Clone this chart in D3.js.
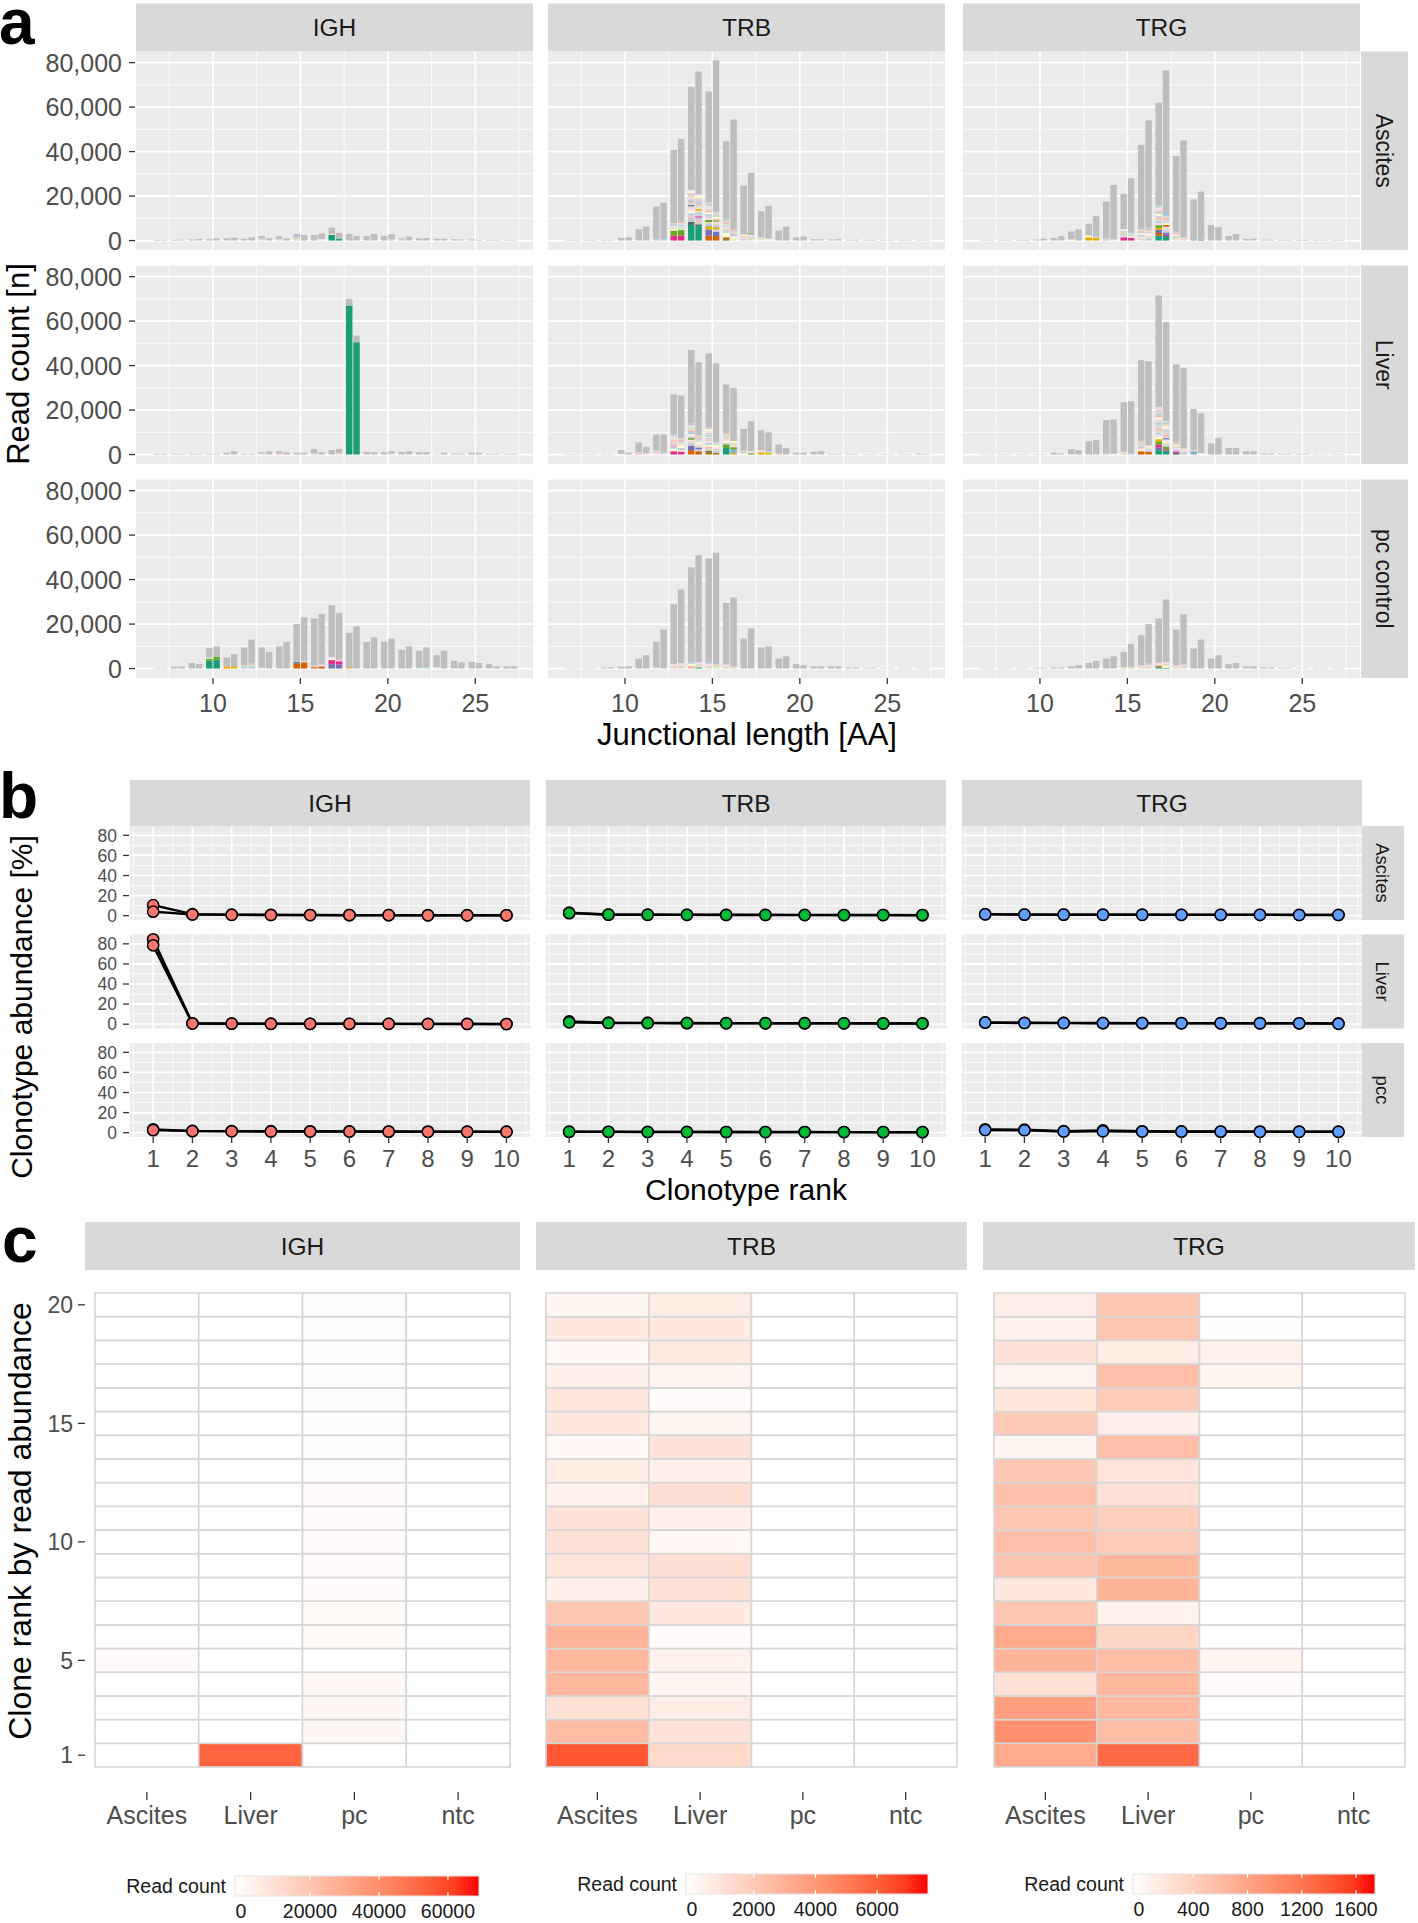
<!DOCTYPE html>
<html>
<head>
<meta charset="utf-8">
<script src="https://cdnjs.cloudflare.com/ajax/libs/d3/7.8.5/d3.min.js"></script>
<style>
  body { margin: 0; background: #fff; }
  text { font-family: "Liberation Sans", Arial, Helvetica, sans-serif; }
</style>
</head>
<body>
<svg id="fig" width="1418" height="1923"></svg>
<script>
// ---------- categories / ticks ----------
var genes = ["IGH", "TRB", "TRG"];
var samplesA = ["Ascites", "Liver", "pc control"];
var samplesB = ["Ascites", "Liver", "pcc"];
var samplesC = ["Ascites", "Liver", "pc", "ntc"];
var lengthsAA = [7, 8, 9, 10, 11, 12, 13, 14, 15, 16, 17, 18, 19, 20, 21, 22, 23, 24, 25, 26, 27];
var readTicks = [0, 20000, 40000, 60000, 80000];
var lengthTicks = [10, 15, 20, 25];
var ranks = [1, 2, 3, 4, 5, 6, 7, 8, 9, 10];
var abundTicks = [0, 20, 40, 60, 80];
var cloneRanks = [1, 2, 3, 4, 5, 6, 7, 8, 9, 10, 11, 12, 13, 14, 15, 16, 17, 18, 19, 20];
var rankTicks = [1, 5, 10, 15, 20];
var geneColors = ["#F8766D", "#00BA38", "#619CFF"];

// ---------- panel a: read totals per junction length, two replicates ----------
var IGH_Asc = [
  [300, 300, 500, 600, 1000, 800, 2000, 2000, 3000, 2500, 5800, 3000, 2000, 2000, 1000, 1000, 800, 600, 500, 300, 200],
  [200, 400, 800, 1000, 1300, 1500, 1000, 1000, 2500, 3200, 3500, 2000, 3000, 2800, 1800, 1100, 800, 500, 300, 300, 200]];
var IGH_Liv = [
  [300, 300, 300, 300, 800, 300, 1000, 1500, 800, 2500, 2000, 70000, 1200, 1000, 1200, 1000, 200, 400, 800, 300, 300],
  [300, 300, 300, 300, 1500, 300, 1500, 1000, 800, 1000, 2500, 53500, 1000, 1500, 1500, 1000, 800, 400, 800, 300, 300]];
var IGH_pc = [
  [200, 800, 2500, 9300, 5000, 9500, 9500, 10000, 20000, 22500, 28500, 16000, 12000, 12000, 8500, 8000, 6000, 3500, 3000, 2000, 1000],
  [200, 800, 2000, 10000, 6500, 13000, 7500, 12000, 23000, 24500, 25000, 19000, 14000, 13500, 10000, 9500, 8000, 2800, 2500, 1000, 1000]];
var TRB_Asc = [
  [200, 200, 200, 1200, 5000, 15300, 40700, 69000, 67000, 44600, 24700, 13200, 4500, 1500, 600, 500, 300, 300, 200, 200, 100],
  [200, 200, 200, 1500, 6300, 17000, 45700, 76000, 81000, 54400, 30400, 15600, 6300, 1800, 600, 600, 400, 300, 200, 200, 100]];
var TRB_Liv = [
  [200, 200, 200, 2000, 5500, 9000, 27000, 47000, 45500, 31500, 11500, 11000, 4500, 800, 1200, 300, 300, 200, 200, 200, 400],
  [200, 200, 200, 800, 3500, 9000, 26500, 41500, 41000, 30000, 15000, 10000, 3000, 800, 1500, 300, 200, 200, 200, 200, 200]];
var TRB_pc = [
  [100, 200, 400, 800, 4500, 12000, 29000, 45500, 49500, 29500, 13500, 9500, 4500, 2000, 1000, 1000, 500, 300, 200, 200, 100],
  [100, 200, 600, 1000, 6000, 17500, 35500, 51000, 52000, 32000, 18000, 10000, 5500, 1500, 1000, 1000, 500, 300, 200, 200, 100]];
var TRG_Asc = [
  [100, 200, 300, 500, 1200, 4000, 7500, 17500, 21000, 43000, 62000, 38000, 18500, 7000, 2000, 800, 400, 300, 300, 200, 200],
  [100, 200, 300, 800, 2000, 5000, 11000, 25000, 28000, 54000, 76500, 45000, 22000, 6000, 3000, 800, 400, 300, 300, 200, 200]];
var TRG_Liv = [
  [100, 200, 200, 200, 800, 2500, 6000, 15500, 23500, 42500, 71500, 40500, 20500, 5000, 3000, 1500, 500, 300, 300, 200, 200],
  [100, 200, 200, 200, 500, 2000, 6500, 15800, 24000, 42000, 59500, 39000, 18500, 7500, 3000, 1500, 500, 300, 300, 200, 200]];
var TRG_pc = [
  [100, 100, 200, 300, 500, 1000, 2500, 4500, 7500, 15000, 22500, 17500, 9000, 4500, 2000, 1000, 500, 300, 200, 200, 100],
  [100, 100, 200, 300, 500, 1500, 3500, 5500, 11000, 20000, 31000, 24500, 13000, 6000, 2500, 1000, 500, 300, 200, 200, 100]];

// clone colour keys
var clonePalette = {
  T: "#1B9E77", O: "#D95F02", P: "#7570B3", K: "#E7298A", G: "#66A61E", Y: "#E6AB02",
  B: "#A6761D", D: "#666666", L: "#80B1D3",
  p: "#FDDAEC", b: "#B3CDE3", e: "#E5D8BD", u: "#DECBE4", g: "#CCEBC5", y: "#FFFFCC",
  s: "#FBB4AE", o: "#FED9A6", t: "#B3E2CD"
};

// top clones stacked at the bottom of a bar: [length, replicate, colour keys, reads]
var cloneIGH_Asc = [
  [13, 0, "e", [900]], [14, 0, "e", [800]], [15, 0, "eb", [1200, 500]], [16, 1, "p", [700]],
  [17, 0, "Te", [2500, 700]], [17, 1, "T", [900]], [20, 1, "u", [600]], [21, 0, "s", [500]]];
var cloneIGH_Liv = [
  [13, 0, "u", [500]], [14, 0, "s", [500]], [16, 0, "u", [700]], [17, 1, "e", [800]],
  [18, 0, "T", [67000]], [18, 1, "T", [50500]], [20, 1, "e", [500]]];
var cloneIGH_pc = [
  [10, 0, "TGg", [3500, 900, 600]], [10, 1, "TG", [4000, 1300]],
  [11, 0, "Y", [1000]], [11, 1, "Y", [1000]],
  [12, 0, "bg", [800, 600]], [12, 1, "bgs", [1000, 700, 500]],
  [13, 0, "g", [400]],
  [15, 0, "ODb", [2200, 700, 500]], [15, 1, "Oe", [2800, 600]],
  [16, 0, "Bs", [600, 800]], [16, 1, "Op", [1000, 800]],
  [17, 0, "PKyp", [2000, 1800, 800, 600]], [17, 1, "PKp", [1800, 1500, 500]],
  [18, 0, "Y", [600]], [22, 0, "t", [500]], [22, 1, "t", [500]], [23, 0, "p", [600]]];
var cloneTRB_Asc = [
  [12, 0, "b", [900]], [12, 1, "b", [700]],
  [13, 0, "KGygpbe", [2200, 2300, 600, 700, 800, 700, 600]],
  [13, 1, "KGgebps", [2200, 2500, 1000, 800, 700, 700, 600]],
  [14, 0, "TDbsubypePgsbpeuyp", [7000, 1400, 1200, 800, 1000, 900, 1200, 900, 1000, 700, 800, 700, 900, 800, 1200, 900, 800, 600]],
  [14, 1, "TDtsbKubeYpgsbueyp", [6500, 800, 800, 1200, 1000, 600, 800, 900, 900, 700, 800, 900, 700, 800, 800, 1000, 900, 700]],
  [15, 0, "OPYbeGpubysepgbe", [2200, 2800, 1500, 1000, 800, 1000, 900, 800, 900, 800, 700, 900, 800, 700, 600, 900]],
  [15, 1, "OPuYbepGsybeu", [2000, 2000, 1000, 1000, 900, 800, 800, 600, 700, 900, 700, 900, 600]],
  [16, 0, "Bybepugseb", [1500, 2000, 700, 1000, 800, 700, 800, 700, 900, 700]],
  [16, 1, "gypbeus", [600, 800, 700, 800, 900, 700, 600]],
  [17, 0, "bpey", [600, 700, 800, 600]], [17, 1, "gepbG", [800, 900, 700, 700, 400]],
  [18, 0, "peg", [500, 600, 500]], [18, 1, "ye", [600, 500]]];
var cloneTRB_Liv = [
  [10, 0, "p", [300]], [11, 0, "sp", [600, 400]], [11, 1, "p", [500]],
  [12, 0, "pue", [600, 800, 500]], [12, 1, "pb", [400, 500]],
  [13, 0, "Kybsuespgpb", [1500, 1200, 800, 800, 700, 800, 600, 600, 700, 700, 700]],
  [13, 1, "Kebypguse", [1200, 1000, 800, 900, 700, 800, 700, 600, 800]],
  [14, 0, "OPbepGuybsegpb", [2000, 2000, 1000, 900, 800, 700, 900, 800, 1000, 700, 900, 800, 700, 700]],
  [14, 1, "ObPepyguse", [1500, 900, 800, 900, 700, 800, 700, 800, 600, 800]],
  [15, 0, "BDgsybpeugbepyu", [1200, 600, 800, 1000, 800, 800, 700, 900, 700, 600, 800, 900, 700, 900, 800]],
  [15, 1, "Bbepygu", [800, 900, 900, 800, 700, 800, 700]],
  [16, 0, "TGbypeugs", [3000, 1500, 800, 700, 700, 900, 700, 800, 600]],
  [16, 1, "YLGpegy", [800, 1500, 1000, 700, 800, 600, 700]],
  [17, 0, "ybe", [600, 500, 700]], [17, 1, "Gpe", [600, 500, 600]],
  [18, 0, "Ype", [1000, 500, 600]], [18, 1, "Yg", [800, 500]],
  [19, 0, "s", [500]]];
var cloneTRB_pc = [
  [12, 0, "e", [600]],
  [13, 0, "ep", [1200, 800]], [13, 1, "ep", [1500, 900]],
  [14, 0, "syb", [1200, 1000, 800]], [14, 1, "Tep", [500, 1500, 800]],
  [15, 0, "epb", [1200, 1000, 800]], [15, 1, "ge", [1000, 1000]],
  [16, 0, "ep", [1000, 800]], [16, 1, "e", [900]]];
var cloneTRG_Asc = [
  [12, 0, "y", [500]],
  [13, 0, "Yy", [1500, 800]], [13, 1, "Ye", [1200, 500]],
  [14, 0, "be", [600, 500]], [14, 1, "p", [500]],
  [15, 0, "Kpbeuy", [1500, 800, 600, 900, 700, 600]], [15, 1, "Kpegb", [1200, 700, 800, 600, 600]],
  [16, 0, "epbyusg", [1000, 800, 800, 600, 700, 600, 500]], [16, 1, "bepyugsb", [800, 900, 700, 800, 700, 600, 700, 700]],
  [17, 0, "TOPYGpbesuybepgb", [2200, 1200, 1500, 800, 1200, 900, 900, 900, 800, 800, 900, 800, 900, 800, 700, 700]],
  [17, 1, "TKPbepOygusebL", [2000, 600, 1000, 900, 900, 800, 800, 800, 800, 800, 700, 800, 700, 600]],
  [18, 0, "pebysu", [600, 800, 600, 700, 600, 600]], [18, 1, "ep", [700, 600]],
  [19, 0, "L", [600]], [19, 1, "Pb", [500, 500]]];
var cloneTRG_Liv = [
  [14, 0, "b", [500]], [14, 1, "p", [400]],
  [15, 0, "ep", [800, 500]], [15, 1, "b", [600]],
  [16, 0, "Oypbeugs", [1500, 600, 800, 700, 800, 700, 600, 500]], [16, 1, "Obepy", [1200, 700, 800, 700, 600]],
  [17, 0, "TPKGYypbesugbepysbeupg", [2000, 1200, 1200, 1500, 1000, 1200, 900, 900, 1000, 800, 900, 800, 900, 900, 800, 800, 700, 800, 900, 800, 800, 700]],
  [17, 1, "TKGbeypPgsuebpyebg", [1800, 600, 1000, 800, 900, 800, 900, 600, 700, 800, 700, 900, 700, 800, 800, 900, 800, 700]],
  [18, 0, "DKbpeyus", [800, 600, 700, 800, 900, 600, 700, 600]], [18, 1, "bepg", [700, 800, 700, 600]],
  [19, 0, "Le", [1500, 600]], [19, 1, "y", [600]]];
var cloneTRG_pc = [
  [15, 0, "e", [600]], [15, 1, "e", [800]],
  [16, 0, "ep", [800, 600]], [16, 1, "epb", [1000, 700, 600]],
  [17, 0, "TOep", [600, 500, 800, 700]], [17, 1, "Tyep", [400, 1000, 800, 700]],
  [18, 0, "ep", [800, 600]], [18, 1, "ep", [1200, 600]]];

// ---------- panel b: clonotype abundance [%] of top 10 ranks, two replicates ----------
var abIGH_Asc = [[10.5, 1.5, 1.0, 0.8, 0.7, 0.6, 0.6, 0.5, 0.5, 0.4], [4.0, 1.2, 0.8, 0.7, 0.6, 0.5, 0.5, 0.4, 0.4, 0.4]];
var abIGH_Liv = [[84.5, 0.9, 0.6, 0.5, 0.4, 0.4, 0.3, 0.3, 0.3, 0.2], [78.5, 0.6, 0.5, 0.3, 0.3, 0.3, 0.3, 0.2, 0.2, 0.1]];
var abIGH_pc = [[3.3, 1.8, 1.6, 1.5, 1.4, 1.3, 1.2, 1.1, 1.0, 1.0], [2.5, 1.5, 1.3, 1.2, 1.1, 1.1, 1.0, 0.9, 0.9, 0.8]];
var abTRB_Asc = [[3.0, 1.2, 1.0, 0.9, 0.9, 0.8, 0.8, 0.7, 0.7, 0.6], [2.5, 1.0, 0.9, 0.8, 0.7, 0.7, 0.6, 0.6, 0.6, 0.5]];
var abTRB_Liv = [[2.8, 1.5, 1.3, 1.2, 1.1, 1.0, 1.0, 0.9, 0.9, 0.8], [1.8, 1.2, 1.1, 1.0, 0.9, 0.9, 0.8, 0.8, 0.7, 0.6]];
var abTRB_pc = [[1.0, 0.9, 0.8, 0.8, 0.7, 0.7, 0.7, 0.6, 0.6, 0.6], [0.9, 0.8, 0.7, 0.7, 0.7, 0.6, 0.6, 0.6, 0.5, 0.5]];
var abTRG_Asc = [[1.5, 1.2, 1.1, 1.0, 1.0, 0.9, 0.9, 0.9, 0.8, 0.8], [1.3, 1.0, 1.0, 0.9, 0.9, 0.8, 0.8, 0.8, 0.7, 0.7]];
var abTRG_Liv = [[1.8, 1.4, 1.3, 1.2, 1.1, 1.1, 1.0, 1.0, 0.9, 0.8], [1.5, 1.2, 1.1, 1.0, 1.0, 0.9, 0.9, 0.9, 0.8, 0.3]];
var abTRG_pc = [[3.2, 3.0, 1.5, 2.2, 1.4, 1.3, 1.2, 1.1, 1.1, 1.0], [2.6, 2.4, 1.2, 1.3, 1.1, 1.0, 1.0, 0.9, 0.9, 0.9]];

// ---------- panel c: read counts of clone ranks 1..20 per sample ----------
var heatIGH = [
  [0, 0, 0, 0, 1400, 0, 0, 0, 0, 0, 0, 0, 0, 0, 0, 0, 0, 0, 0, 0],
  [53000, 0, 0, 0, 0, 0, 0, 0, 0, 0, 0, 0, 0, 0, 0, 0, 0, 0, 0, 0],
  [0, 3000, 3000, 2500, 0, 2000, 1700, 1100, 1100, 1000, 1000, 1000, 900, 900, 900, 800, 800, 800, 800, 700],
  [0, 0, 0, 0, 0, 0, 0, 0, 0, 0, 0, 0, 0, 0, 0, 0, 0, 0, 0, 0]];
var heatTRB = [
  [6300, 2700, 1200, 2900, 2900, 3050, 2300, 600, 1000, 1200, 1150, 550, 750, 300, 900, 1000, 600, 300, 900, 400],
  [1550, 1150, 750, 400, 550, 150, 900, 1200, 1300, 300, 600, 1300, 600, 1150, 400, 150, 450, 850, 900, 750],
  [0, 0, 0, 0, 0, 0, 0, 0, 0, 0, 0, 0, 0, 0, 0, 0, 0, 0, 0, 0],
  [0, 0, 0, 0, 0, 0, 0, 0, 0, 0, 0, 0, 0, 0, 0, 0, 0, 0, 0, 0]];
var heatTRG = [
  [780, 990, 870, 280, 700, 780, 520, 210, 540, 590, 520, 575, 505, 90, 490, 245, 105, 260, 120, 155],
  [1300, 610, 645, 660, 610, 380, 120, 700, 660, 470, 435, 280, 245, 590, 155, 470, 590, 175, 520, 520],
  [0, 0, 0, 35, 90, 0, 0, 0, 0, 0, 0, 0, 0, 0, 0, 0, 90, 120, 15, 0],
  [0, 0, 0, 0, 0, 0, 0, 0, 0, 0, 0, 0, 0, 0, 0, 0, 0, 0, 0, 0]];
var heatMax = [69000, 7650, 1740];
var legendTicks = [[0, 20000, 40000, 60000], [0, 2000, 4000, 6000], [0, 400, 800, 1200, 1600]];

var readsData = [[IGH_Asc, IGH_Liv, IGH_pc], [TRB_Asc, TRB_Liv, TRB_pc], [TRG_Asc, TRG_Liv, TRG_pc]];
var cloneData = [[cloneIGH_Asc, cloneIGH_Liv, cloneIGH_pc], [cloneTRB_Asc, cloneTRB_Liv, cloneTRB_pc], [cloneTRG_Asc, cloneTRG_Liv, cloneTRG_pc]];
var abundData = [[abIGH_Asc, abIGH_Liv, abIGH_pc], [abTRB_Asc, abTRB_Liv, abTRB_pc], [abTRG_Asc, abTRG_Liv, abTRG_pc]];
var heatData = [heatIGH, heatTRB, heatTRG];

var svg = d3.select("#fig");
var TICK = "#4D4D4D", STRIP = "#D9D9D9";

/*
grey panel with white grid.
*/
function frame(g, w, h, xs, ys, xMaj, xMin, yMaj, yMin) {
  g.append("rect").attr("width", w).attr("height", h).attr("fill", "#EBEBEB");
  var lines = [].concat(
    xMin.map(function(v) { return {x1: xs(v), x2: xs(v), y1: 0, y2: h, sw: 0.8}; }),
    yMin.map(function(v) { return {x1: 0, x2: w, y1: ys(v), y2: ys(v), sw: 0.8}; }),
    xMaj.map(function(v) { return {x1: xs(v), x2: xs(v), y1: 0, y2: h, sw: 1.7}; }),
    yMaj.map(function(v) { return {x1: 0, x2: w, y1: ys(v), y2: ys(v), sw: 1.7}; }));
  g.selectAll("line.grid").data(lines).enter().append("line")
    .attr("x1", function(d) { return d.x1; }).attr("x2", function(d) { return d.x2; })
    .attr("y1", function(d) { return d.y1; }).attr("y2", function(d) { return d.y2; })
    .attr("stroke", "#fff").attr("stroke-width", function(d) { return d.sw; });
}

function stripTop(x, y, w, h, label) {
  svg.append("rect").attr("x", x).attr("y", y).attr("width", w).attr("height", h).attr("fill", STRIP);
  svg.append("text").attr("x", x + w / 2).attr("y", y + h / 2).attr("dy", "0.36em")
    .attr("text-anchor", "middle").attr("font-size", 24.5).attr("fill", "#1A1A1A").text(label);
}

function stripRight(x, y, w, h, label, size) {
  svg.append("rect").attr("x", x).attr("y", y).attr("width", w).attr("height", h).attr("fill", STRIP);
  svg.append("text").attr("transform", "translate(" + (x + w / 2) + "," + (y + h / 2) + ") rotate(90)")
    .attr("dy", "0.36em").attr("text-anchor", "middle").attr("font-size", size)
    .attr("fill", "#1A1A1A").text(label);
}

function yTitle(x, y, label, size) {
  svg.append("text").attr("transform", "translate(" + x + "," + y + ") rotate(-90)")
    .attr("dy", "0.36em").attr("text-anchor", "middle").attr("font-size", size)
    .attr("fill", "#000").text(label);
}

function letter(x, y, l) {
  svg.append("text").attr("x", x).attr("y", y).attr("font-size", 64).attr("font-weight", "bold").text(l);
}

// ================= panel a =================
var colA = [136, 548, 963], widthA = 397;
var rowA = [51.5, 265.5, 479.5], heightA = 198.5;
var xA = d3.scaleLinear().domain([5.6, 28.3]).range([0, widthA]);
var yA = d3.scaleLinear().domain([-4250, 85000]).range([heightA, 0]);
var fmtReads = d3.format(",");

letter(-1, 44, "a");
genes.forEach(function(gene, gi) {
  stripTop(colA[gi], 3.5, widthA, 48, gene);
  samplesA.forEach(function(smp, si) {
    var g = svg.append("g").attr("transform", "translate(" + colA[gi] + "," + rowA[si] + ")");
    frame(g, widthA, heightA, xA, yA, lengthTicks, [7.5, 12.5, 17.5, 22.5, 27.5], readTicks, [10000, 30000, 50000, 70000]);

    var bars = [];
    readsData[gi][si].forEach(function(rep, r) {
      rep.forEach(function(total, i) {
        var len = lengthsAA[i];
        var entry = cloneData[gi][si].find(function(c) { return c[0] === len && c[1] === r; });
        var y0 = 0;
        if (entry) entry[3].forEach(function(v, k) {
          bars.push({len: len, r: r, y0: y0, y1: y0 + v, fill: clonePalette[entry[2][k]]});
          y0 += v;
        });
        if (total > y0) bars.push({len: len, r: r, y0: y0, y1: total, fill: "#BEBEBE"});
      });
    });
    g.selectAll("rect.bar").data(bars).enter().append("rect")
      .attr("x", function(d) { return xA(d.len + (d.r ? 0.21 : -0.21) - 0.185); })
      .attr("width", xA(0.37) - xA(0))
      .attr("y", function(d) { return yA(d.y1); })
      .attr("height", function(d) { return Math.max(0.4, yA(d.y0) - yA(d.y1)); })
      .attr("fill", function(d) { return d.fill; });

    if (gi === 2) stripRight(1361, rowA[si], 47, heightA, smp, 23);
    if (gi === 0) {
      readTicks.forEach(function(t) {
        svg.append("line").attr("x1", colA[0] - 7).attr("x2", colA[0] - 1).attr("y1", rowA[si] + yA(t)).attr("y2", rowA[si] + yA(t))
          .attr("stroke", "#333").attr("stroke-width", 1.3);
        svg.append("text").attr("x", colA[0] - 14).attr("y", rowA[si] + yA(t)).attr("dy", "0.36em")
          .attr("text-anchor", "end").attr("font-size", 25).attr("fill", TICK).text(fmtReads(t));
      });
    }
    if (si === 2) {
      lengthTicks.forEach(function(t) {
        var x = colA[gi] + xA(t), yb = rowA[2] + heightA;
        svg.append("line").attr("x1", x).attr("x2", x).attr("y1", yb).attr("y2", yb + 6).attr("stroke", "#333").attr("stroke-width", 1.3);
        svg.append("text").attr("x", x).attr("y", yb + 34).attr("text-anchor", "middle")
          .attr("font-size", 25).attr("fill", TICK).text(t);
      });
    }
  });
});
svg.append("text").attr("x", 747).attr("y", 745).attr("text-anchor", "middle").attr("font-size", 31).text("Junctional length [AA]");
yTitle(18, 364, "Read count [n]", 31);

// ================= panel b =================
var colB = [130, 546, 962], widthB = 400;
var rowB = [826, 934.5, 1043], heightB = 94;
var xB = d3.scaleLinear().domain([0.41, 10.6]).range([0, widthB]);
var yB = d3.scaleLinear().domain([-4.3, 89.3]).range([heightB, 0]);
var line = d3.line().x(function(d, i) { return xB(ranks[i]); }).y(function(d) { return yB(d); });

letter(-1, 818, "b");
genes.forEach(function(gene, gi) {
  stripTop(colB[gi], 780, widthB, 46, gene);
  samplesB.forEach(function(smp, si) {
    var g = svg.append("g").attr("transform", "translate(" + colB[gi] + "," + rowB[si] + ")");
    frame(g, widthB, heightB, xB, yB, ranks, [0.5, 1.5, 2.5, 3.5, 4.5, 5.5, 6.5, 7.5, 8.5, 9.5, 10.5], abundTicks, [10, 30, 50, 70]);
    var reps = abundData[gi][si];
    g.selectAll("path.rep").data(reps).enter().append("path")
      .attr("d", line).attr("fill", "none").attr("stroke", "#000").attr("stroke-width", 2.4);
    var pts = [];
    reps.forEach(function(rep) { rep.forEach(function(v, i) { pts.push({x: ranks[i], y: v}); }); });
    g.selectAll("circle").data(pts).enter().append("circle")
      .attr("cx", function(d) { return xB(d.x); }).attr("cy", function(d) { return yB(d.y); })
      .attr("r", 5.6).attr("fill", geneColors[gi]).attr("stroke", "#000").attr("stroke-width", 1.5);

    if (gi === 2) stripRight(1362, rowB[si], 42, heightB, smp, 18.5);
    if (gi === 0) {
      abundTicks.forEach(function(t) {
        svg.append("line").attr("x1", colB[0] - 7).attr("x2", colB[0] - 1).attr("y1", rowB[si] + yB(t)).attr("y2", rowB[si] + yB(t))
          .attr("stroke", "#333").attr("stroke-width", 1.3);
        svg.append("text").attr("x", colB[0] - 13).attr("y", rowB[si] + yB(t)).attr("dy", "0.36em")
          .attr("text-anchor", "end").attr("font-size", 17.5).attr("fill", TICK).text(t);
      });
    }
    if (si === 2) {
      ranks.forEach(function(t) {
        var x = colB[gi] + xB(t), yb = rowB[2] + heightB;
        svg.append("line").attr("x1", x).attr("x2", x).attr("y1", yb).attr("y2", yb + 6).attr("stroke", "#333").attr("stroke-width", 1.3);
        svg.append("text").attr("x", x).attr("y", yb + 30).attr("text-anchor", "middle")
          .attr("font-size", 24).attr("fill", TICK).text(t);
      });
    }
  });
});
svg.append("text").attr("x", 746).attr("y", 1200).attr("text-anchor", "middle").attr("font-size", 30).text("Clonotype rank");
yTitle(21.5, 1007, "Clonotype abundance [%]", 30);

// ================= panel c =================
var stripC = [[85, 435], [536, 431], [983, 432]];
var tileC = [[95, 415], [546, 411], [994, 411]];
var tileTop = 1293, tileBottom = 1767;
var legendC = [[235, 479, 1876], [686, 928, 1874], [1133, 1375, 1874]];
var yC = d3.scaleBand().domain(cloneRanks.slice().reverse()).range([tileTop, tileBottom]);
var defs = svg.append("defs");

letter(2, 1262, "c");
genes.forEach(function(gene, gi) {
  stripTop(stripC[gi][0], 1222, stripC[gi][1], 48, gene);
  var xC = d3.scaleBand().domain(samplesC).range([tileC[gi][0], tileC[gi][0] + tileC[gi][1]]);
  var fill = d3.scaleLinear().domain([0, heatMax[gi]]).range(["#FFFFFF", "#FF0000"]).interpolate(d3.interpolateLab);
  var cells = [];
  heatData[gi].forEach(function(col, ci) {
    col.forEach(function(v, ri) { cells.push({s: samplesC[ci], rank: cloneRanks[ri], v: v}); });
  });
  svg.append("g").selectAll("rect").data(cells).enter().append("rect")
    .attr("x", function(d) { return xC(d.s); }).attr("y", function(d) { return yC(d.rank); })
    .attr("width", xC.bandwidth()).attr("height", yC.bandwidth())
    .attr("fill", function(d) { return fill(d.v); })
    .attr("stroke", "#D6D6D6").attr("stroke-width", 1.6);

  samplesC.forEach(function(s) {
    var x = xC(s) + xC.bandwidth() / 2;
    svg.append("line").attr("x1", x).attr("x2", x).attr("y1", 1792).attr("y2", 1800).attr("stroke", "#333").attr("stroke-width", 1.3);
    svg.append("text").attr("x", x).attr("y", 1824).attr("text-anchor", "middle").attr("font-size", 25).attr("fill", TICK).text(s);
  });
  if (gi === 0) {
    rankTicks.forEach(function(t) {
      var y = yC(t) + yC.bandwidth() / 2;
      svg.append("line").attr("x1", 78).attr("x2", 85).attr("y1", y).attr("y2", y).attr("stroke", "#333").attr("stroke-width", 1.3);
      svg.append("text").attr("x", 73).attr("y", y).attr("dy", "0.36em").attr("text-anchor", "end")
        .attr("font-size", 23).attr("fill", TICK).text(t);
    });
  }

  // colourbar legend
  var lg = legendC[gi];
  var grad = defs.append("linearGradient").attr("id", "grad" + gi);
  d3.range(0, 1.0001, 0.1).forEach(function(t) {
    grad.append("stop").attr("offset", t).attr("stop-color", fill(t * heatMax[gi]));
  });
  var xL = d3.scaleLinear().domain([0, heatMax[gi]]).range([lg[0] + 6, lg[1]]);
  svg.append("rect").attr("x", lg[0]).attr("y", lg[2]).attr("width", lg[1] - lg[0]).attr("height", 20)
    .attr("fill", "url(#grad" + gi + ")").attr("stroke", "#E4E4E4").attr("stroke-width", 1);
  legendTicks[gi].forEach(function(t) {
    var x = xL(t);
    svg.append("line").attr("x1", x).attr("x2", x).attr("y1", lg[2]).attr("y2", lg[2] + 4).attr("stroke", "#fff").attr("stroke-width", 1.2);
    svg.append("line").attr("x1", x).attr("x2", x).attr("y1", lg[2] + 16).attr("y2", lg[2] + 20).attr("stroke", "#fff").attr("stroke-width", 1.2);
    svg.append("text").attr("x", x).attr("y", lg[2] + 42).attr("text-anchor", "middle").attr("font-size", 19.5).attr("fill", "#1A1A1A").text(t);
  });
  svg.append("text").attr("x", lg[0] - 9).attr("y", lg[2] + 10).attr("dy", "0.36em").attr("text-anchor", "end")
    .attr("font-size", 19.5).attr("fill", "#1A1A1A").text("Read count");
});
yTitle(19, 1521, "Clone rank by read abundance", 32);
</script>
</body>
</html>
